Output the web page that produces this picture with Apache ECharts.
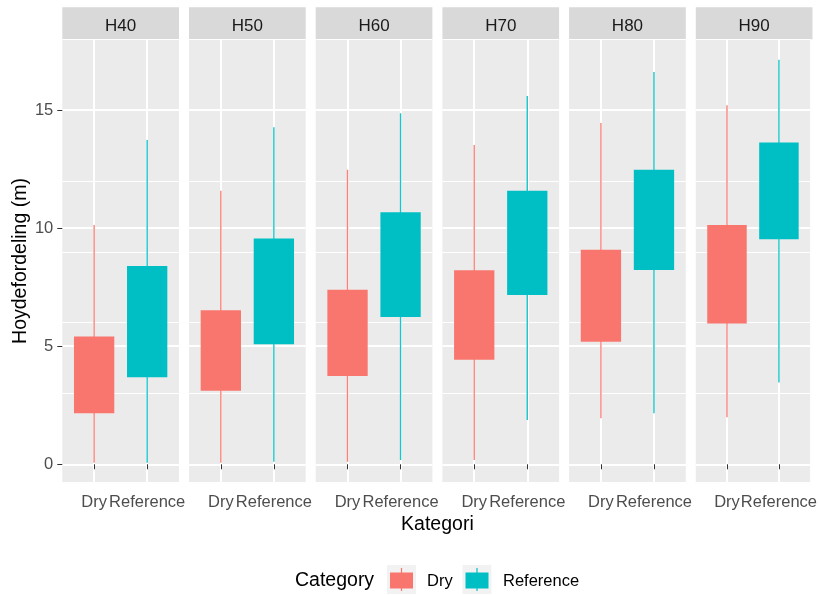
<!DOCTYPE html>
<html>
<head>
<meta charset="utf-8">
<script src="https://cdn.jsdelivr.net/npm/echarts@6/dist/echarts.min.js"></script>
<style>
  html, body { margin: 0; padding: 0; background: #ffffff; }
  #chart { width: 820px; height: 595px; }
</style>
</head>
<body>
<div id="chart"></div>
<script>
// Facet panels and the two categories inside each panel
const facets = ['H40', 'H50', 'H60', 'H70', 'H80', 'H90'];
const categories = ['Dry', 'Reference'];

// Box statistics per facet: [lower whisker, Q1, Q3, upper whisker]
const dryStats = [
  [0.07, 2.16, 5.41, 10.14],
  [0.07, 3.11, 6.52, 11.59],
  [0.11, 3.74, 7.39, 12.47],
  [0.18, 4.43, 8.22, 13.52],
  [1.95, 5.19, 9.09, 14.45],
  [1.99, 5.96, 10.13, 15.21]
];
const refStats = [
  [0.07, 3.69, 8.40, 13.74],
  [0.11, 5.08, 9.56, 14.28],
  [0.18, 6.24, 10.68, 14.87],
  [1.88, 7.17, 11.59, 15.60],
  [2.16, 8.23, 12.47, 16.61],
  [3.46, 9.53, 13.63, 17.13]
];

// Axis ticks
const yMajorTicks = [0, 5, 10, 15];
const yMinorTicks = [2.5, 7.5, 12.5, 17.5];
const xTicks = [1, 2];

const COLORS = { Dry: '#F8766D', Reference: '#00BFC4' };
const FONT = 'Liberation Sans, Arial, Helvetica, sans-serif';

// Panel layout
const PANEL_LEFT = 62.3;
const PANEL_STEP = 126.7;
const PANEL_WIDTH = 116.7;
const PANEL_TOP = 39.3;
const PANEL_BOTTOM = 482.7;
const STRIP_TOP = 7.3;
const BOX_WIDTH = 0.76;
const Y_MIN = -0.78;
const Y_MAX = 18.0;

function renderBox(params, api) {
  const x = api.value(0);
  const lo = api.value(1), q1 = api.value(2), q3 = api.value(3), hi = api.value(4);
  const color = api.visual('color');
  const half = BOX_WIDTH / 2;
  const pHi = api.coord([x, hi]);
  const pLo = api.coord([x, lo]);
  const tl = api.coord([x - half, q3]);
  const br = api.coord([x + half, q1]);
  return {
    type: 'group',
    children: [
      {
        type: 'line',
        shape: { x1: pHi[0], y1: pHi[1], x2: pLo[0], y2: pLo[1] },
        style: { stroke: color, lineWidth: 1.4, opacity: 0.9 }
      },
      {
        type: 'rect',
        shape: { x: tl[0], y: tl[1], width: br[0] - tl[0], height: br[1] - tl[1] },
        style: { fill: color }
      }
    ]
  };
}

const grids = [], xAxes = [], yAxes = [], series = [], graphics = [];

facets.forEach((name, i) => {
  const left = PANEL_LEFT + i * PANEL_STEP;
  grids.push({
    left: left,
    top: PANEL_TOP,
    width: PANEL_WIDTH,
    height: PANEL_BOTTOM - PANEL_TOP,
    show: true,
    backgroundColor: '#EBEBEB',
    borderWidth: 0
  });

  xAxes.push({
    type: 'value',
    gridIndex: i,
    min: 0.4,
    max: 2.6,
    axisLine: { show: false },
    axisTick: { show: true, length: 5, customValues: xTicks, lineStyle: { color: '#333333', width: 1 } },
    axisLabel: {
      show: true,
      customValues: xTicks,
      formatter: v => categories[Math.round(v) - 1],
      color: '#4D4D4D',
      fontFamily: FONT,
      fontSize: 16.5,
      margin: 11
    },
    splitLine: { show: true, customValues: xTicks, lineStyle: { color: '#FFFFFF', width: 2 } }
  });

  // major y gridlines (and labels on the first panel)
  yAxes.push({
    type: 'value',
    gridIndex: i,
    min: Y_MIN,
    max: Y_MAX,
    axisLine: { show: false },
    axisTick: { show: i === 0, length: 5, customValues: yMajorTicks, lineStyle: { color: '#333333', width: 1 } },
    axisLabel: {
      show: i === 0,
      customValues: yMajorTicks,
      color: '#4D4D4D',
      fontFamily: FONT,
      fontSize: 16.5,
      margin: 9
    },
    splitLine: { show: true, customValues: yMajorTicks, lineStyle: { color: '#FFFFFF', width: 2 } }
  });
  // minor y gridlines
  yAxes.push({
    type: 'value',
    gridIndex: i,
    min: Y_MIN,
    max: Y_MAX,
    axisLine: { show: false },
    axisTick: { show: false },
    axisLabel: { show: false },
    splitLine: { show: true, customValues: yMinorTicks, lineStyle: { color: '#FFFFFF', width: 1 } }
  });

  [['Dry', dryStats[i]], ['Reference', refStats[i]]].forEach(([cat, s], k) => {
    series.push({
      name: cat,
      type: 'custom',
      xAxisIndex: i,
      yAxisIndex: 2 * i,
      itemStyle: { color: COLORS[cat] },
      encode: { x: 0, y: [1, 2, 3, 4] },
      renderItem: renderBox,
      z: 3,
      silent: true,
      data: [[k + 1].concat(s)]
    });
  });

  // facet strip
  graphics.push({
    type: 'rect',
    shape: { x: left, y: STRIP_TOP, width: PANEL_WIDTH, height: PANEL_TOP - STRIP_TOP },
    style: { fill: '#D9D9D9' },
    silent: true
  });
  graphics.push({
    type: 'text',
    x: left + PANEL_WIDTH / 2,
    y: 26,
    style: {
      text: name, fill: '#1A1A1A', font: '17px ' + FONT,
      align: 'center', verticalAlign: 'middle'
    },
    silent: true
  });
});

// axis titles
graphics.push({
  type: 'text',
  x: (PANEL_LEFT + PANEL_LEFT + 5 * PANEL_STEP + PANEL_WIDTH) / 2,
  y: 525,
  style: { text: 'Kategori', fill: '#000000', font: '19.5px ' + FONT, align: 'center', verticalAlign: 'middle' },
  silent: true
});
graphics.push({
  type: 'text',
  x: 20.5,
  y: 261,
  rotation: Math.PI / 2,
  style: { text: 'Hoydefordeling (m)', fill: '#000000', font: '19.5px ' + FONT, align: 'center', verticalAlign: 'middle' },
  silent: true
});

// legend
graphics.push({
  type: 'text', x: 295, y: 581,
  style: { text: 'Category', fill: '#000000', font: '19.5px ' + FONT, align: 'left', verticalAlign: 'middle' },
  silent: true
});
const legendKeys = [
  { name: 'Dry', keyX: 387, textX: 427 },
  { name: 'Reference', keyX: 462.5, textX: 503 }
];
legendKeys.forEach(k => {
  const c = COLORS[k.name];
  graphics.push({ type: 'rect', shape: { x: k.keyX, y: 565, width: 29, height: 29 }, style: { fill: '#F2F2F2' }, silent: true });
  graphics.push({ type: 'line', shape: { x1: k.keyX + 14.5, y1: 568, x2: k.keyX + 14.5, y2: 591 }, style: { stroke: c, lineWidth: 1.2 }, silent: true });
  graphics.push({ type: 'rect', shape: { x: k.keyX + 3, y: 572.5, width: 23, height: 16 }, style: { fill: c }, silent: true });
  graphics.push({
    type: 'text', x: k.textX, y: 581,
    style: { text: k.name, fill: '#000000', font: '16.5px ' + FONT, align: 'left', verticalAlign: 'middle' },
    silent: true
  });
});

const chart = echarts.init(document.getElementById('chart'), null, { renderer: 'canvas' });
chart.setOption({
  animation: false,
  backgroundColor: '#FFFFFF',
  textStyle: { fontFamily: FONT },
  grid: grids,
  xAxis: xAxes,
  yAxis: yAxes,
  series: series,
  graphic: { elements: graphics }
});
</script>
</body>
</html>
